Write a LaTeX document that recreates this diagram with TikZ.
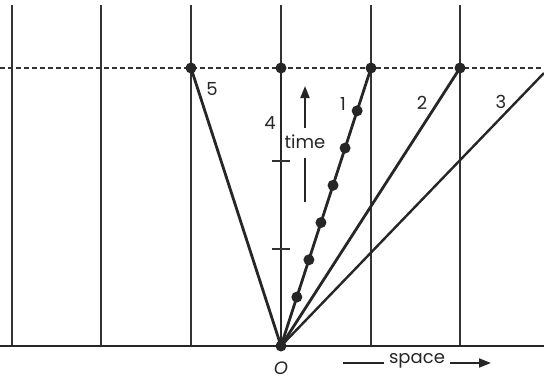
\documentclass[tikz,border=0pt]{standalone}
\usepackage{fontspec}
\setmainfont{Poppins}
\usetikzlibrary{arrows.meta,calc}
\begin{document}
\begin{tikzpicture}[x=1pt,y=-1pt,
  grid/.style={line width=1.5pt,black!80},
  world/.style={line width=2.8pt,black!85},
  evt/.style={circle,fill=black!85,inner sep=0pt,minimum size=11pt},
  lbl/.style={font=\fontsize{18}{18}\selectfont,inner sep=0pt,black!85},
  tick/.style={line width=1.4pt,black!80}]
\useasboundingbox (0,0) rectangle (544,380);
% grid lines
\foreach \x in {12,101,191,281,371,460}
  \draw[grid] (\x,5) -- (\x,346);
% dashed "now" line
\draw[line width=1.2pt,black!80,dash pattern=on 4.5pt off 3.5pt] (0,68) -- (544,68);
% ground line
\draw[line width=2.4pt,black!85] (0,346) -- (544,346);
% origin and events
\node[evt] (O) at (281,346) {};
\node[evt] (e5) at (191,68) {};
\node[evt] (e4) at (281,68) {};
\node[evt] (e1) at (371,68) {};
\node[evt] (e2) at (460,68) {};
\coordinate (e3) at (544,73);
% world lines
\draw[world] (O.center) -- (e5.center);
\draw[world] (O.center) -- (e4.center);
\draw[world] (O.center) -- (e1.center);
\draw[world] (O.center) -- (e2.center);
\draw[world,line width=2.4pt] (O.center) -- (e3);
% dots on world line 1
\foreach \t [count=\i] in {0.176,0.310,0.444,0.578,0.712,0.846}
  \node[evt] (d\i) at ($(O.center)!\t!(e1.center)$) {};
% ticks on line 4
\draw[tick] (272,161) -- (290,161);
\draw[tick] (272,249) -- (290,249);
% labels
\node[lbl] (l5) at (212,89) {5};
\node[lbl] (l4) at (270,123) {4};
\node[lbl] (l1) at (343,104) {1};
\node[lbl] (l2) at (422,103) {2};
\node[lbl] (l3) at (501,102) {3};
% time arrow
\node[lbl] (time) at (305,142) {time};
\draw[line width=2pt,black!85,-{Triangle[length=12pt,width=9pt]}] (305,128) -- (305,86);
\draw[line width=2pt,black!85] (305,158) -- (305,202);
% space arrow
\node[lbl] (Olbl) at (281,368) {\itshape O};
\node[lbl] (space) at (417,361) {space};
\draw[line width=1.8pt,black!85] (343,363) -- (384,363);
\draw[line width=1.8pt,black!85,-{Triangle[length=12pt,width=9pt]}] (450,363) -- (491,363);
\end{tikzpicture}
\end{document}
